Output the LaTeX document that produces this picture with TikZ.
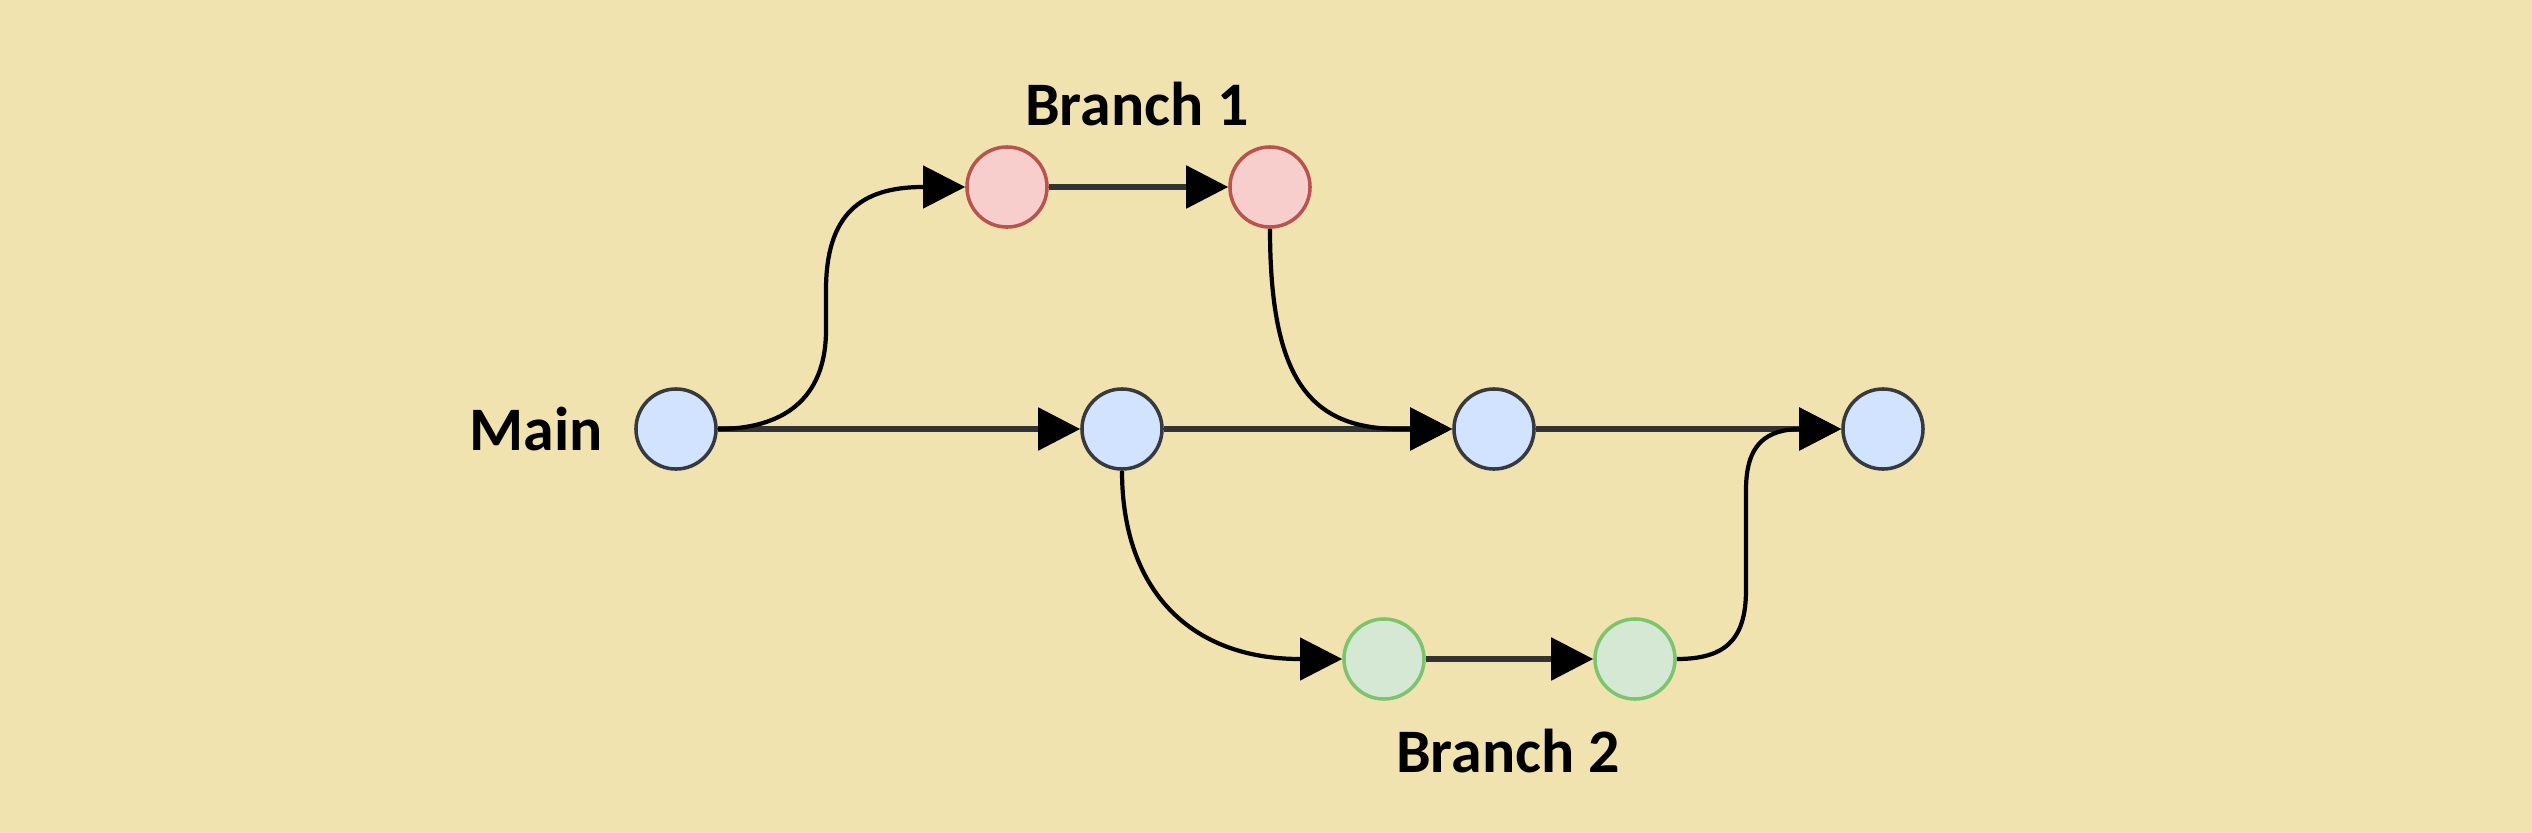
\documentclass[tikz,border=0pt]{standalone}
\usepackage{fontspec}
\setmainfont{Carlito}
\usetikzlibrary{arrows.meta}
\definecolor{bg}{HTML}{F0E3AF}
\definecolor{bluefill}{HTML}{D2E3FF}
\definecolor{blueline}{HTML}{36393D}
\definecolor{redfill}{HTML}{F8CECC}
\definecolor{redline}{HTML}{B85450}
\definecolor{greenfill}{HTML}{D5E8D4}
\definecolor{greenline}{HTML}{7CC46E}
\definecolor{linkcol}{HTML}{333333}
\begin{document}
\begin{tikzpicture}[x=0.01cm,y=-0.01cm,
  commit/.style={circle, minimum size=0.8cm, inner sep=0pt, line width=1pt},
  maincommit/.style={commit, draw=blueline, fill=bluefill},
  redcommit/.style={commit, draw=redline, fill=redfill},
  greencommit/.style={commit, draw=greenline, fill=greenfill},
  link/.style={draw=linkcol, line width=1.5pt, -{Triangle[length=0.42cm,width=0.42cm,color=black,fill=black]}},
  curvelink/.style={link, draw=black, line width=1.2pt},
  lbl/.style={font=\bfseries\fontsize{17.6pt}{20pt}\selectfont, anchor=base, inner sep=0pt}
]
\fill[bg] (0,0) rectangle (2532,833);
\useasboundingbox (0,0) rectangle (2532,833);

\node[maincommit] (m1) at (676,429) {};
\node[maincommit] (m2) at (1122,429) {};
\node[maincommit] (m3) at (1494,429) {};
\node[maincommit] (m4) at (1883,429) {};
\node[redcommit] (r1) at (1007,187) {};
\node[redcommit] (r2) at (1270,187) {};
\node[greencommit] (g1) at (1384,659) {};
\node[greencommit] (g2) at (1635,659) {};

\node[lbl] (lmain) at (536,450) {Main};
\node[lbl] (lb1) at (1137,125) {Branch 1};
\node[lbl] (lb2) at (1508,772) {Branch 2};

\draw[link] (m1.east) -- (m2.west);
\draw[link] (m2.east) -- (m3.west);
\draw[link] (m3.east) -- (m4.west);
\draw[link] (r1.east) -- (r2.west);
\draw[link] (g1.east) -- (g2.west);

\draw[curvelink] (m1.east) .. controls (782,429) and (826,400) .. (826,330)
  -- (826,290) .. controls (826,215) and (860,187) .. (923,187) -- (r1.west);
\draw[curvelink] (r2.south) .. controls (1270,380) and (1310,429) .. (1400,429) -- (m3.west);
\draw[curvelink] (m2.south) .. controls (1122,590) and (1190,659) .. (1300,659) -- (g1.west);
\draw[curvelink] (g2.east) .. controls (1725,659) and (1746,640) .. (1746,590)
  -- (1746,490) .. controls (1746,445) and (1765,429) .. (1802,429) -- (m4.west);
\end{tikzpicture}
\end{document}
